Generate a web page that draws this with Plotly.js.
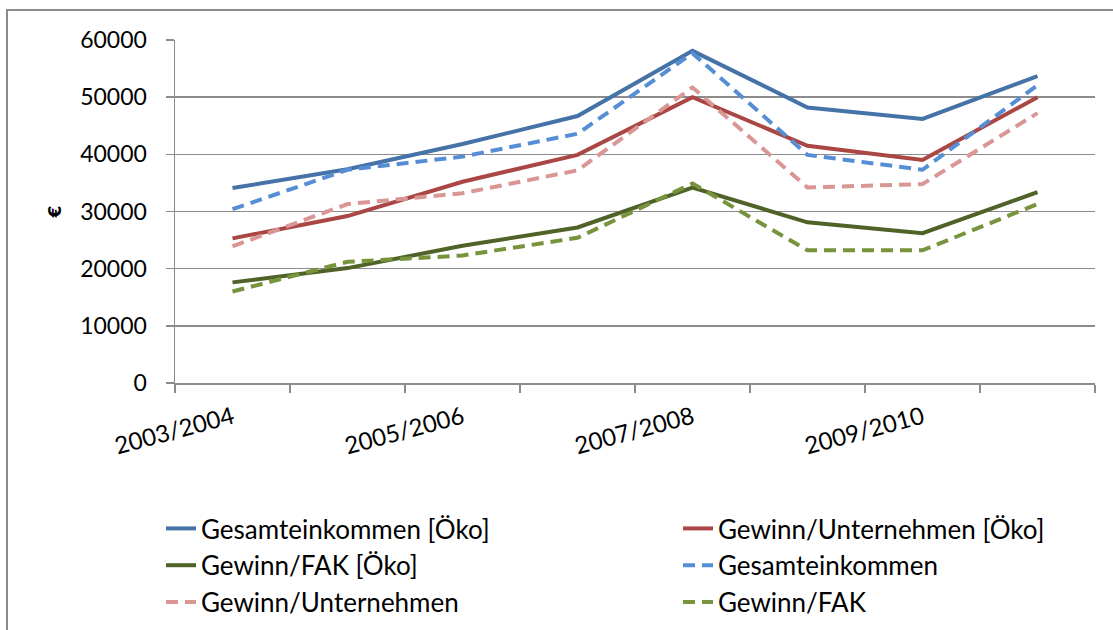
<!DOCTYPE html>
<html>
<head>
<meta charset="utf-8">
<script src="https://cdn.plot.ly/plotly-3.0.1.min.js"></script>
<style>html,body{margin:0;padding:0;background:#fff;}#chart{width:1113px;height:630px;}</style>
</head>
<body>
<div id="chart"></div>
<script>
var categories = ['2003/2004','2004/2005','2005/2006','2006/2007','2007/2008','2008/2009','2009/2010','2010/2011'];
var seriesNames = ['Gesamteinkommen [Öko]','Gewinn/Unternehmen [Öko]','Gewinn/FAK [Öko]','Gesamteinkommen','Gewinn/Unternehmen','Gewinn/FAK'];
var gesamtOeko = [34100, 37400, 41800, 46700, 58100, 48200, 46200, 53700];
var unternehmenOeko = [25300, 29200, 35200, 39900, 50000, 41500, 39000, 50000];
var fakOeko = [17600, 20100, 24000, 27200, 34200, 28100, 26200, 33400];
var gesamt = [30400, 37300, 39600, 43600, 57700, 39900, 37300, 52100];
var unternehmen = [23900, 31300, 33200, 37200, 51700, 34200, 34800, 47200];
var fak = [16000, 21200, 22300, 25400, 34900, 23200, 23200, 31300];
var yTickVals = [0, 10000, 20000, 30000, 40000, 50000, 60000];
var yTitle = '€';

var values = [gesamtOeko, unternehmenOeko, fakOeko, gesamt, unternehmen, fak];
var colors = ['#4572A7', '#AA4643', '#4F6228', '#558ED5', '#D99694', '#77933C'];
var dashes = ['solid', 'solid', 'solid', '12px,7px', '12px,7px', '12px,7px'];
var legendIds = ['legend', 'legend2', 'legend', 'legend2', 'legend', 'legend2'];

var traces = values.map(function (v, i) {
  return {
    type: 'scatter', mode: 'lines', x: categories, y: v, name: seriesNames[i],
    legend: legendIds[i], legendgroup: 'g' + i,
    line: {color: colors[i], width: 4, dash: dashes[i]}
  };
});

var tickText = categories.map(function (c, i) { return i % 2 === 0 ? c : ''; });

var legendFont = {family: 'Lato, sans-serif', size: 26, color: '#000'};
function legendAt(xpx) {
  return {
    orientation: 'v', x: (xpx - 175) / 920, xanchor: 'left', y: -0.3557, yanchor: 'top',
    font: legendFont, traceorder: 'normal', tracegroupgap: 2,
    bgcolor: 'rgba(0,0,0,0)', borderwidth: 0
  };
}

var layout = {
  width: 1113, height: 630,
  margin: {l: 175, r: 18, t: 40, b: 247, autoexpand: false},
  paper_bgcolor: '#fff', plot_bgcolor: '#fff',
  font: {family: 'Lato, sans-serif', color: '#000', size: 22},
  showlegend: true,
  legend: legendAt(161),
  legend2: legendAt(678),
  xaxis: {
    type: 'category', range: [-0.5, 7.5],
    tickmode: 'array', tickvals: categories, ticktext: tickText,
    tickson: 'boundaries', ticks: 'outside', ticklen: 8, tickwidth: 1.5, tickcolor: '#8c8c8c',
    tickangle: -15, ticklabelstandoff: 10,
    showgrid: false, showline: true, linecolor: '#8c8c8c', linewidth: 1.5,
    tickfont: {family: 'Lato, sans-serif', size: 24, color: '#000'}, zeroline: false
  },
  yaxis: {
    range: [0, 60000], tickmode: 'array', tickvals: yTickVals, tickformat: 'd',
    ticks: 'outside', ticklen: 8, tickwidth: 1.5, tickcolor: '#8c8c8c',
    showgrid: true, gridcolor: '#8c8c8c', gridwidth: 1.5,
    showline: true, linecolor: '#8c8c8c', linewidth: 1.5, zeroline: false,
    ticklabelstandoff: 14,
    tickfont: {family: 'Lato, sans-serif', size: 23, color: '#000'},
    title: {text: yTitle, font: {family: 'DejaVu Sans, sans-serif', size: 17, weight: 'bold', color: '#000'}, standoff: 14}
  },
  shapes: [{
    type: 'rect', xref: 'paper', yref: 'paper',
    x0: -0.1826, x1: 1.05, y0: -0.8, y1: 1.0875,
    line: {color: '#8c8c8c', width: 2}, fillcolor: 'rgba(0,0,0,0)', layer: 'below'
  }]
};

Plotly.newPlot('chart', traces, layout, {displayModeBar: false, staticPlot: true});
</script>
</body>
</html>
